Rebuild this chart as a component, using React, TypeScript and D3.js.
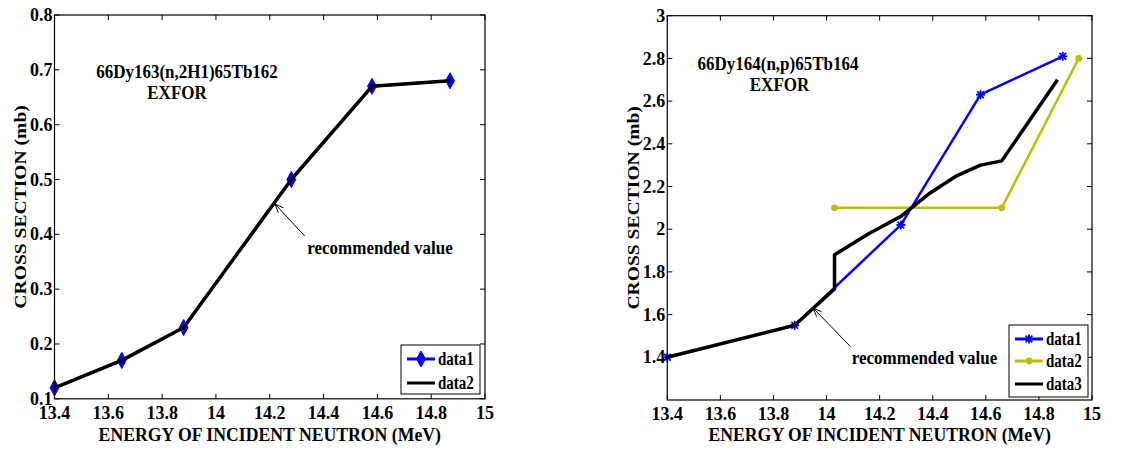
import React from "react";
import * as d3 from "d3";

// left panel: 66Dy163(n,2H1)65Tb162
const leftEnergy = [13.4, 13.65, 13.88, 14.28, 14.58, 14.87];
const leftData1 = [0.12, 0.17, 0.23, 0.5, 0.67, 0.68];
const leftData2 = [0.12, 0.17, 0.23, 0.5, 0.67, 0.68];
const leftXTicks = [13.4, 13.6, 13.8, 14, 14.2, 14.4, 14.6, 14.8, 15];
const leftYTicks = [0.1, 0.2, 0.3, 0.4, 0.5, 0.6, 0.7, 0.8];

// right panel: 66Dy164(n,p)65Tb164
const rightEnergy1 = [13.4, 13.88, 14.28, 14.58, 14.89];
const rightData1 = [1.4, 1.55, 2.02, 2.63, 2.81];
const rightEnergy2 = [14.03, 14.66, 14.95];
const rightData2 = [2.1, 2.1, 2.8];
const rightEnergy3 = [13.4, 13.88, 14.03, 14.03, 14.16, 14.28, 14.39, 14.49, 14.58, 14.66, 14.87];
const rightData3 = [1.4, 1.55, 1.72, 1.88, 1.98, 2.06, 2.17, 2.25, 2.3, 2.32, 2.7];
const rightXTicks = [13.4, 13.6, 13.8, 14, 14.2, 14.4, 14.6, 14.8, 15];
const rightYTicks = [1.4, 1.6, 1.8, 2, 2.2, 2.4, 2.6, 2.8, 3];

const FONT = "'Liberation Serif','Times New Roman',serif";
const BLUE = "#0000ff";
const OLIVE = "#bfbf00";

type TProps = { x: number; y: number; size?: number; sy?: number; anchor?: string; rotate?: number; children: React.ReactNode };
const T = ({ x, y, size = 17, sy = 1.12, anchor = "middle", rotate = 0, children }: TProps) => (
  <text
    transform={`translate(${x},${y}) scale(1,${sy})${rotate ? ` rotate(${rotate})` : ""}`}
    textAnchor={anchor}
    dominantBaseline="central"
    fontFamily={FONT}
    fontWeight="bold"
    fontSize={size}
    fill="#000"
  >
    {children}
  </text>
);

const fmt = (v: number) => String(+v.toFixed(1));

const Marker = ({ kind, x, y, color }: { kind: string; x: number; y: number; color: string }) => {
  if (kind === "diamond") {
    const d = d3.symbol(d3.symbolDiamond, 75)() as string;
    return <path d={d} transform={`translate(${x},${y}) scale(0.95,1)`} fill={color} stroke={color} />;
  }
  if (kind === "star") {
    const r = 4.5;
    return (
      <g stroke={color} strokeWidth={1.8}>
        <line x1={x - r} x2={x + r} y1={y} y2={y} />
        <line x1={x} x2={x} y1={y - r} y2={y + r} />
        <line x1={x - r * 0.75} x2={x + r * 0.75} y1={y - r * 0.75} y2={y + r * 0.75} />
        <line x1={x - r * 0.75} x2={x + r * 0.75} y1={y + r * 0.75} y2={y - r * 0.75} />
      </g>
    );
  }
  if (kind === "dot") return <circle cx={x} cy={y} r={3.4} fill={color} />;
  return null;
};

type Series = { name: string; xs: number[]; ys: number[]; color: string; width: number; marker: string };

type PanelProps = {
  box: { left: number; right: number; top: number; bottom: number };
  xDomain: [number, number];
  yDomain: [number, number];
  xTicks: number[];
  yTicks: number[];
  series: Series[];
  title: { text: string; x: number; y: number }[];
  arrow: { tip: [number, number]; tail: [number, number] };
  note: { x: number; y: number };
  yLabelX: number;
  legend: { left: number; right: number; top: number; bottom: number; rows: number[]; lineX: [number, number]; textX: number };
};

const Panel = ({ box, xDomain, yDomain, xTicks, yTicks, series, title, arrow, note, yLabelX, legend }: PanelProps) => {
  const x = d3.scaleLinear().domain(xDomain).range([box.left, box.right]);
  const y = d3.scaleLinear().domain(yDomain).range([box.bottom, box.top]);
  const line = d3.line<[number, number]>().x((d) => x(d[0])).y((d) => y(d[1]));
  const tk = 5;

  // arrow head
  const [tx, ty] = [x(arrow.tip[0]), y(arrow.tip[1])];
  const [sx, sy] = [x(arrow.tail[0]), y(arrow.tail[1])];
  const ang = Math.atan2(ty - sy, tx - sx);
  const head = [ang + Math.PI - 0.4, ang + Math.PI + 0.4].map((a) => [tx + 9 * Math.cos(a), ty + 9 * Math.sin(a)]);

  return (
    <g>
      {/* series */}
      {series.map((s) => (
        <g key={s.name}>
          <path
            d={line(s.xs.map((v, i) => [v, s.ys[i]] as [number, number])) as string}
            fill="none"
            stroke={s.color}
            strokeWidth={s.width}
            strokeLinejoin="round"
          />
          {s.xs.map((v, i) => (
            <Marker key={i} kind={s.marker} x={x(v)} y={y(s.ys[i])} color={s.color} />
          ))}
        </g>
      ))}

      {/* frame and ticks */}
      <rect x={box.left} y={box.top} width={box.right - box.left} height={box.bottom - box.top} fill="none" stroke="#000" strokeWidth={1.2} />
      {xTicks.map((v) => (
        <g key={"x" + v} stroke="#000">
          <line x1={x(v)} x2={x(v)} y1={box.bottom} y2={box.bottom - tk} />
          <line x1={x(v)} x2={x(v)} y1={box.top} y2={box.top + tk} />
        </g>
      ))}
      {yTicks.map((v) => (
        <g key={"y" + v} stroke="#000">
          <line x1={box.left} x2={box.left + tk} y1={y(v)} y2={y(v)} />
          <line x1={box.right} x2={box.right - tk} y1={y(v)} y2={y(v)} />
        </g>
      ))}
      {xTicks.map((v) => (
        <T key={"xl" + v} x={x(v)} y={box.bottom + 14} size={18} sy={1.05}>
          {fmt(v)}
        </T>
      ))}
      {yTicks.map((v) => (
        <T key={"yl" + v} x={box.left - 2} y={y(v)} anchor="end" size={18} sy={1.05}>
          {fmt(v)}
        </T>
      ))}
      <T x={(box.left + box.right) / 2} y={434} size={17.7} sy={1.12}>
        ENERGY OF INCIDENT NEUTRON (MeV)
      </T>
      <T x={yLabelX} y={(box.top + box.bottom) / 2} rotate={-90} size={17.5} sy={1.12}>
        CROSS SECTION (mb)
      </T>

      {/* title */}
      {title.map((t) => (
        <T key={t.text} x={t.x} y={t.y} size={17} sy={1.15}>
          {t.text}
        </T>
      ))}

      {/* annotation */}
      <line x1={sx} y1={sy} x2={tx} y2={ty} stroke="#000" strokeWidth={1} />
      <polyline points={`${head[0][0]},${head[0][1]} ${tx},${ty} ${head[1][0]},${head[1][1]}`} fill="none" stroke="#000" strokeWidth={1} />
      <T x={note.x} y={note.y} size={17} sy={1.15}>
        recommended value
      </T>

      {/* legend */}
      <rect
        x={legend.left}
        y={legend.top}
        width={legend.right - legend.left}
        height={legend.bottom - legend.top}
        fill="#fff"
        stroke="#000"
        strokeWidth={1}
      />
      {series.map((s, i) => {
        const ry = legend.rows[i];
        const mx = (legend.lineX[0] + legend.lineX[1]) / 2;
        return (
          <g key={"lg" + s.name}>
            <line x1={legend.lineX[0]} x2={legend.lineX[1]} y1={ry} y2={ry} stroke={s.color} strokeWidth={3} />
            <Marker kind={s.marker} x={mx} y={ry} color={s.color} />
            <T x={legend.textX} y={ry} anchor="start" size={15} sy={1.28}>
              {s.name}
            </T>
          </g>
        );
      })}
    </g>
  );
};

export default function App() {
  return (
    <svg width={1147} height={450} style={{ position: "absolute", left: 0, top: 0, background: "#fff" }}>
      <Panel
        box={{ left: 54.5, right: 485, top: 15, bottom: 398.8 }}
        xDomain={[13.4, 15]}
        yDomain={[0.1, 0.8]}
        xTicks={leftXTicks}
        yTicks={leftYTicks}
        series={[
          { name: "data1", xs: leftEnergy, ys: leftData1, color: BLUE, width: 2.5, marker: "diamond" },
          { name: "data2", xs: leftEnergy, ys: leftData2, color: "#000", width: 3.5, marker: "none" },
        ]}
        title={[
          { text: "66Dy163(n,2H1)65Tb162", x: 187, y: 72 },
          { text: "EXFOR", x: 177, y: 93 },
        ]}
        arrow={{ tip: [14.22, 0.455], tail: [14.33, 0.397] }}
        note={{ x: 380, y: 248 }}
        yLabelX={20}
        legend={{ left: 401, right: 480, top: 345, bottom: 394, rows: [359, 383], lineX: [407, 435], textX: 438 }}
      />
      <Panel
        box={{ left: 667.3, right: 1092, top: 15.7, bottom: 400 }}
        xDomain={[13.4, 15]}
        yDomain={[1.2, 3]}
        xTicks={rightXTicks}
        yTicks={rightYTicks}
        series={[
          { name: "data1", xs: rightEnergy1, ys: rightData1, color: BLUE, width: 2.5, marker: "star" },
          { name: "data2", xs: rightEnergy2, ys: rightData2, color: OLIVE, width: 2.5, marker: "dot" },
          { name: "data3", xs: rightEnergy3, ys: rightData3, color: "#000", width: 3.5, marker: "none" },
        ]}
        title={[
          { text: "66Dy164(n,p)65Tb164", x: 778, y: 64 },
          { text: "EXFOR", x: 779.5, y: 85 },
        ]}
        arrow={{ tip: [13.95, 1.63], tail: [14.09, 1.45] }}
        note={{ x: 924.5, y: 358 }}
        yLabelX={633}
        legend={{ left: 1009, right: 1088, top: 325, bottom: 397, rows: [339, 361, 384], lineX: [1015, 1043], textX: 1046 }}
      />
    </svg>
  );
}
